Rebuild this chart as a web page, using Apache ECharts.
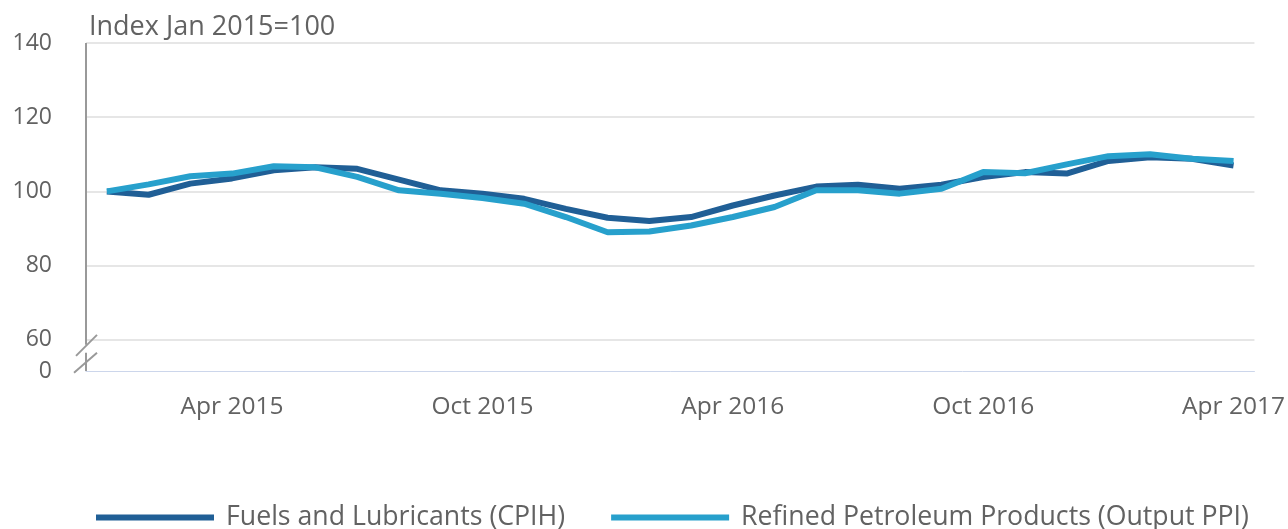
<!DOCTYPE html>
<html>
<head>
<meta charset="utf-8">
<script src="https://cdn.jsdelivr.net/npm/echarts@6/dist/echarts.min.js"></script>
<style>
  html, body { margin: 0; padding: 0; background: #fff; }
  #chart { width: 1288px; height: 529px; }
</style>
</head>
<body>
<div id="chart"></div>
<script>
// months Jan 2015 - Apr 2017
var months = ['Jan 2015','Feb 2015','Mar 2015','Apr 2015','May 2015','Jun 2015','Jul 2015','Aug 2015','Sep 2015','Oct 2015','Nov 2015','Dec 2015',
  'Jan 2016','Feb 2016','Mar 2016','Apr 2016','May 2016','Jun 2016','Jul 2016','Aug 2016','Sep 2016','Oct 2016','Nov 2016','Dec 2016',
  'Jan 2017','Feb 2017','Mar 2017','Apr 2017'];

var cpih = [100, 99.1, 102.1, 103.5, 105.7, 106.5, 106.1, 103.2, 100.3, 99.4, 98.0, 95.3,
  92.9, 92.0, 93.1, 96.2, 98.9, 101.3, 101.8, 100.7, 101.8, 103.9, 105.2, 104.8,
  108.2, 109.2, 108.8, 107.0];

var ppi = [100, 101.9, 104.1, 104.8, 106.8, 106.5, 103.9, 100.3, 99.4, 98.2, 96.7, 93.1,
  89.0, 89.2, 90.8, 93.1, 95.8, 100.3, 100.3, 99.4, 100.7, 105.2, 104.9, 107.3,
  109.5, 110.0, 108.8, 108.2];

var yTicks = [60, 80, 100, 120, 140];
var yMin = 51.6;   // the broken part of the axis, labelled 0

var font = 'Open Sans';
var textColor = '#626262';

var myChart = echarts.init(document.getElementById('chart'));

var option = {
    animation: false,
    title: {
        text: 'Index Jan 2015=100',
        left: 84,
        top: 9,
        textStyle: { fontFamily: font, fontSize: 27, fontWeight: 'normal', color: textColor }
    },
    legend: {
        data: ['Fuels and Lubricants (CPIH)', 'Refined Petroleum Products (Output PPI)'],
        left: 91,
        top: 499,
        icon: 'rect',
        itemWidth: 118,
        itemHeight: 6,
        itemGap: 46,
        textStyle: { fontFamily: font, fontSize: 26.7, color: textColor, padding: [0, 0, 0, 7] }
    },
    grid: { left: 86, right: 33, top: 43, bottom: 158 },
    xAxis: {
        type: 'category',
        data: months,
        boundaryGap: true,
        axisLine: { lineStyle: { color: '#ccd6eb', width: 1 } },
        axisTick: {
            alignWithLabel: true,
            length: 20,
            interval: function (i) { return i % 6 === 3; },
            lineStyle: { color: '#ccd6eb' }
        },
        axisLabel: {
            interval: function (i) { return i % 6 === 3; },
            margin: 24,
            fontFamily: font,
            fontSize: 24.5,
            color: textColor
        }
    },
    yAxis: {
        type: 'value',
        min: yMin,
        max: 140,
        axisLine: { show: false },
        axisTick: { show: false, customValues: yTicks },
        splitLine: { lineStyle: { color: '#e6e6e6', width: 2 } },
        axisLabel: {
            customValues: [yMin].concat(yTicks),
            margin: 34,
            padding: [4, 0, 0, 0],
            fontFamily: font,
            fontSize: 23,
            color: textColor,
            formatter: function (v) { return v < 60 ? '0' : String(v); }
        }
    },
    series: [
        {
            name: 'Fuels and Lubricants (CPIH)',
            type: 'line',
            data: cpih,
            symbol: 'none',
            color: '#205f96',
            lineStyle: { width: 6 }
        },
        {
            name: 'Refined Petroleum Products (Output PPI)',
            type: 'line',
            data: ppi,
            symbol: 'none',
            color: '#27a0cc',
            lineStyle: { width: 6 }
        }
    ]
};

myChart.setOption(option);

// y axis line with break marks between 60 and 0
var pTop = myChart.convertToPixel({ gridIndex: 0 }, [0, 140]);
var p60 = myChart.convertToPixel({ gridIndex: 0 }, [0, 60]);
var pMin = myChart.convertToPixel({ gridIndex: 0 }, [0, yMin]);
var ax = 86;
var axStyle = { stroke: '#999999', lineWidth: 2 };
myChart.setOption({
    graphic: [
        { type: 'line', shape: { x1: ax, y1: pTop[1], x2: ax, y2: p60[1] + 5 }, style: axStyle, z: 10 },
        { type: 'line', shape: { x1: ax, y1: p60[1] + 13, x2: ax, y2: pMin[1] }, style: axStyle, z: 10 },
        { type: 'line', shape: { x1: ax - 10, y1: p60[1] + 16, x2: ax + 11, y2: p60[1] - 5 }, style: axStyle, z: 10 },
        { type: 'line', shape: { x1: ax - 12, y1: p60[1] + 33, x2: ax + 11, y2: p60[1] + 13 }, style: axStyle, z: 10 }
    ]
});
</script>
</body>
</html>
